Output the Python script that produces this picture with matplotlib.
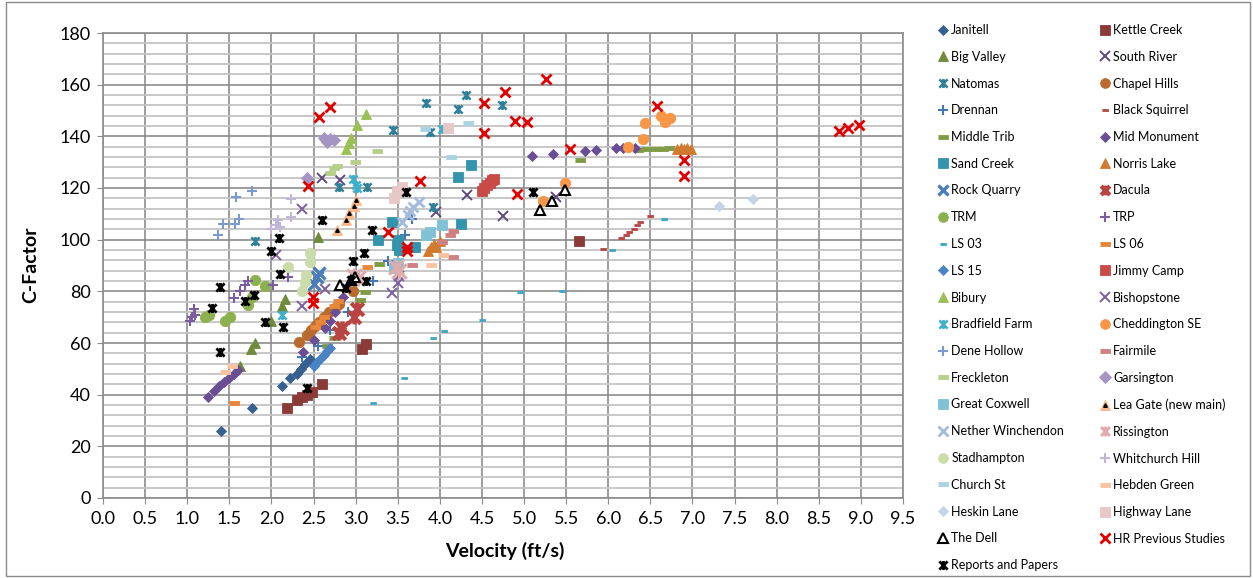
import numpy as np
import matplotlib.pyplot as plt
from matplotlib.path import Path
from matplotlib.lines import Line2D
from matplotlib.patches import Rectangle

plt.rcParams['font.family'] = ['Lato', 'DejaVu Sans']

# velocity (ft/s) / C-factor, one pair of lists per site
janitell_v = [1.40, 1.77, 2.12, 2.22, 2.30, 2.35, 2.40, 2.46]
janitell_c = [26, 35, 43.5, 46.5, 48, 50, 52, 54]
kettle_v = [2.18, 2.30, 2.36, 2.42, 2.48, 2.60, 3.07, 3.12, 5.65]
kettle_c = [34.7, 38, 39, 40, 41, 44, 57.5, 59.5, 99.5]
bigvalley_v = [1.63, 1.76, 1.80, 2.00, 2.12, 2.16, 2.55]
bigvalley_c = [51, 57.5, 60, 68.5, 74.5, 77, 101]
southriver_v = [2.60, 2.81, 3.96, 4.32, 4.75, 5.38]
southriver_c = [124, 123, 110.8, 117.2, 109, 116.7]
natomas_v = [1.81, 2.80, 3.14, 3.44, 3.83, 3.88, 3.92, 4.21, 4.31, 4.74]
natomas_c = [99.6, 120.5, 120.3, 142.5, 152.8, 141.8, 112.8, 150.5, 156, 152.2]
chapel_v = [2.33, 2.42, 2.47, 2.52, 2.57, 2.62, 2.68, 2.75, 2.80, 2.97]
chapel_c = [60.5, 63, 65, 66.5, 68, 70, 72, 73.5, 75, 80]
drennan_v = [2.36, 2.55, 2.70, 2.91, 3.21, 3.38, 3.59, 3.67]
drennan_c = [54.5, 59, 65, 72, 84, 91.7, 102, 108]
blacksq_v = [5.94, 6.15, 6.21, 6.25, 6.30, 6.34, 6.38, 6.50]
blacksq_c = [96.4, 100.8, 101.8, 103, 104.3, 105.5, 106.8, 109.3]
midtrib_v = [2.66, 2.74, 3.05, 3.11, 3.28, 5.67, 6.35, 6.45, 6.55, 6.65, 6.72]
midtrib_c = [58.7, 61.8, 76.5, 79.8, 90.6, 131, 134.8, 135, 135, 135.2, 135.3]
midmon_v = [1.25, 1.32, 1.38, 1.44, 1.50, 1.56, 1.60, 2.38, 2.50, 2.64, 2.69,
            2.76, 2.85, 5.09, 5.34, 5.72, 5.86, 6.09, 6.18, 6.32]
midmon_c = [39, 41.5, 43.5, 45, 46.5, 48, 49.5, 56.6, 61.2, 65.7, 68.6,
            72, 78, 132.2, 133.2, 134.5, 134.8, 135.3, 135.5, 135.6]
sandcreek_v = [3.27, 3.43, 3.49, 3.50, 3.52, 3.70, 4.21, 4.25, 4.37]
sandcreek_c = [100, 107, 98, 100, 96, 97, 124.2, 106, 129]
norris_v = [3.86, 3.90, 3.93, 3.96, 4.00, 6.82, 6.86, 6.90, 6.94, 6.98]
norris_c = [95.5, 97, 98.5, 97, 99.5, 135, 135.5, 135, 135.5, 135]
rockq_v = [2.50, 2.54, 2.56]
rockq_c = [83, 85.5, 87]
dacula_v = [2.80, 2.84, 2.98, 3.02]
dacula_c = [64, 66, 70, 73]
trm_v = [1.21, 1.26, 1.45, 1.51, 1.72, 1.77, 1.80, 1.92]
trm_c = [70.2, 71, 68.5, 70, 74.7, 78, 84.3, 82]
trp_v = [1.03, 1.06, 1.09, 1.08, 1.55, 1.63, 1.69, 1.72, 2.02, 2.20]
trp_c = [68.6, 70, 71, 73.1, 77.3, 80, 82.5, 84, 82.5, 85.7]
ls03_v = [3.21, 3.57, 3.92, 4.05, 4.50, 4.95, 5.45, 6.05, 6.66]
ls03_c = [36.9, 46.3, 61.8, 64.7, 68.9, 79.6, 80.3, 96, 108]
ls06_v = [1.55, 2.52, 2.58, 2.62, 2.74, 2.79, 3.14]
ls06_c = [36.9, 66.3, 68.3, 70, 74.2, 76.2, 89.3]
ls15_v = [2.50, 2.54, 2.58, 2.62, 2.66, 2.70]
ls15_c = [51, 52.5, 54, 55.5, 57, 58]
jimmy_v = [4.50, 4.53, 4.56, 4.59, 4.62, 4.64]
jimmy_c = [119, 120, 121, 122, 123, 123.5]
bibury_v = [2.88, 2.92, 2.95, 3.02, 3.12]
bibury_c = [135, 137.5, 139.2, 144.5, 148.5]
bishop_v = [2.06, 2.36, 2.36, 2.64, 3.43, 3.50, 3.52]
bishop_c = [94, 74.5, 111.8, 81, 79.5, 83.3, 86]
bradfield_v = [2.12, 2.97, 3.00, 3.02, 4.02]
bradfield_c = [70.8, 123.4, 121, 119.9, 143]
chedd_v = [5.23, 5.49, 6.24, 6.41, 6.44, 6.63, 6.67, 6.73]
chedd_c = [115, 121.8, 135.8, 138.9, 145.3, 147.9, 145.7, 147]
dene_v = [1.37, 1.43, 1.57, 1.61, 1.58, 1.77]
dene_c = [101.8, 106.1, 106.1, 108, 116.7, 118.9]
fairmile_v = [3.67, 4.02, 4.12, 4.16, 4.16]
fairmile_c = [90.2, 99.2, 102, 103.5, 93.2]
freck_v = [2.70, 2.74, 2.78, 2.99, 3.25]
freck_c = [126, 127.6, 128.5, 130.2, 134.5]
gars_v = [2.42, 2.62, 2.66, 2.70, 2.74]
gars_c = [123.8, 139.5, 138, 139, 138.5]
coxwell_v = [3.45, 3.50, 3.84, 3.88, 4.02]
coxwell_c = [89, 91, 101.8, 103, 105.7]
leagate_v = [2.78, 2.88, 2.92, 2.98, 3.01]
leagate_c = [103.7, 107.8, 110.3, 113, 115.2]
nether_v = [3.55, 3.62, 3.65, 3.68, 3.75]
nether_c = [107, 109.5, 111, 112.5, 114.7]
riss_v = [2.98, 3.03, 3.48, 3.52]
riss_c = [86, 85, 89.5, 88]
stad_v = [2.20, 2.36, 2.40, 2.41, 2.46, 2.46]
stad_c = [89.5, 80, 83.7, 86.3, 91.5, 94.7]
whit_v = [2.00, 2.06, 2.08, 2.10, 2.23, 2.23]
whit_c = [104, 105.7, 107.6, 105, 108.7, 115.6]
church_v = [3.82, 4.13, 4.33]
church_c = [143, 131.9, 145.3]
hebden_v = [1.45, 1.53, 3.90, 4.04]
hebden_c = [48.7, 51.2, 90.2, 94.1]
heskin_v = [7.32, 7.72]
heskin_c = [113, 115.6]
highway_v = [3.45, 3.49, 3.55, 4.10]
highway_c = [116.3, 118.8, 120.5, 143.2]
dell_v = [2.82, 2.95, 2.99, 5.19, 5.33, 5.49]
dell_c = [82.3, 84.4, 85.5, 111.5, 114.9, 119.4]
hr_v = [2.43, 2.49, 2.49, 2.56, 2.69, 3.38, 3.61, 3.61, 3.77, 4.53, 4.53, 4.77,
        4.89, 4.92, 5.03, 5.26, 5.55, 6.58, 6.90, 6.90, 8.74, 8.85, 8.98]
hr_c = [120.8, 77.7, 75.3, 147.6, 151.5, 102.9, 97.3, 95.5, 122.8, 152.8, 141.4, 157.3,
        146, 117.7, 145.7, 162.1, 135, 151.8, 130.9, 124.7, 142.1, 143.1, 144.4]
reports_v = [1.29, 1.39, 1.39, 1.69, 1.79, 1.92, 1.99, 2.09, 2.10, 2.14, 2.42, 2.60,
             2.89, 2.95, 2.97, 3.10, 3.12, 3.20, 3.60, 5.11]
reports_c = [73.4, 81.6, 56.4, 76.4, 78.6, 68.3, 95.7, 100.5, 86.7, 66.1, 42.5, 107.6,
             81.2, 84.2, 91.9, 94.7, 84.1, 103.7, 118.6, 118.6]

# excel-like markers
STAR = Path([(-1, -1), (1, 1), (-1, 1), (1, -1), (0, -1.1), (0, 1.1)],
            [Path.MOVETO, Path.LINETO, Path.MOVETO, Path.LINETO, Path.MOVETO, Path.LINETO])
SDASH = [(-1, -0.45), (1, -0.45), (1, 0.45), (-1, 0.45)]
LDASH = [(-1, -0.32), (1, -0.32), (1, 0.32), (-1, 0.32)]


def filled(marker, color, ms):
    return dict(marker=marker, ms=ms, mfc=color, mec=color, mew=0.6)


def lines(marker, color, ms, lw=1.4):
    return dict(marker=marker, ms=ms, mfc='none', mec=color, mew=lw)


series = [
    ('Janitell', janitell_v, janitell_c, filled('D', '#35608f', 4.6)),
    ('Kettle Creek', kettle_v, kettle_c, filled('s', '#8b3a38', 7.8)),
    ('Big Valley', bigvalley_v, bigvalley_c, filled('^', '#6f8a3a', 7)),
    ('South River', southriver_v, southriver_c, lines('x', '#5f4a80', 6.5)),
    ('Natomas', natomas_v, natomas_c, lines(STAR, '#2f8098', 6.5, 1.8)),
    ('Chapel Hills', chapel_v, chapel_c, filled('o', '#b96a2e', 7.5)),
    ('Drennan', drennan_v, drennan_c, lines('+', '#4577b5', 6.5, 1.5)),
    ('Black Squirrel', blacksq_v, blacksq_c, filled(SDASH, '#b84644', 4.5)),
    ('Middle Trib', midtrib_v, midtrib_c, filled(LDASH, '#7f9c45', 7)),
    ('Mid Monument', midmon_v, midmon_c, filled('D', '#6a4e93', 4.8)),
    ('Sand Creek', sandcreek_v, sandcreek_c, filled('s', '#3394ae', 7)),
    ('Norris Lake', norris_v, norris_c, filled('^', '#d07a2e', 7)),
    ('Rock Quarry', rockq_v, rockq_c, lines('x', '#4a7dba', 8.5, 2.4)),
    ('Dacula', dacula_v, dacula_c, lines(STAR, '#b84543', 10, 3)),
    ('TRM', trm_v, trm_c, filled('o', '#8db04e', 7.5)),
    ('TRP', trp_v, trp_c, lines('+', '#7a5da0', 6.5, 1.5)),
    ('LS 03', ls03_v, ls03_c, filled(SDASH, '#3fa7c4', 4.5)),
    ('LS 06', ls06_v, ls06_c, filled(LDASH, '#e8873a', 7)),
    ('LS 15', ls15_v, ls15_c, filled('D', '#4a82c6', 5)),
    ('Jimmy Camp', jimmy_v, jimmy_c, filled('s', '#c84b48', 7.5)),
    ('Bibury', bibury_v, bibury_c, filled('^', '#9bc054', 7)),
    ('Bishopstone', bishop_v, bishop_c, lines('x', '#7b5fa0', 6.5)),
    ('Bradfield Farm', bradfield_v, bradfield_c, lines(STAR, '#3fb0cc', 6.5, 1.8)),
    ('Cheddington SE', chedd_v, chedd_c, filled('o', '#f79646', 7.5)),
    ('Dene Hollow', dene_v, dene_c, lines('+', '#7b9bd0', 6.5, 1.5)),
    ('Fairmile', fairmile_v, fairmile_c, filled(SDASH, '#d08080', 7)),
    ('Freckleton', freck_v, freck_c, filled(LDASH, '#b7cf8a', 7)),
    ('Garsington', gars_v, gars_c, filled('D', '#a594c4', 6)),
    ('Great Coxwell', coxwell_v, coxwell_c, filled('s', '#7fc2d6', 7.5)),
    ('Lea Gate (new main)', leagate_v, leagate_c, filled('^', '#f8b88a', 6.8)),
    ('Nether Winchendon', nether_v, nether_c, lines('x', '#a5bbdc', 7.5, 2)),
    ('Rissington', riss_v, riss_c, lines(STAR, '#e0acab', 11.5, 2.2)),
    ('Stadhampton', stad_v, stad_c, filled('o', '#c9dcaa', 7.5)),
    ('Whitchurch Hill', whit_v, whit_c, lines('+', '#c2b6d8', 6.5, 1.5)),
    ('Church St', church_v, church_c, filled(SDASH, '#a8d3e2', 7)),
    ('Hebden Green', hebden_v, hebden_c, filled(LDASH, '#f9c3a0', 7)),
    ('Heskin Lane', heskin_v, heskin_c, filled('D', '#c5d2e8', 4.6)),
    ('Highway Lane', highway_v, highway_c, filled('s', '#e8c7c7', 7)),
    ('The Dell', dell_v, dell_c, dict(marker='^', ms=6.5, mfc='white', mec='black', mew=1.5)),
    ('HR Previous Studies', hr_v, hr_c, lines('x', '#e00000', 6.5, 2)),
    ('Reports and Papers', reports_v, reports_c, lines(STAR, 'black', 6.5, 2)),
]

fig = plt.figure(figsize=(12.53, 5.78), dpi=100)
ax = fig.add_axes([103 / 1253, 1 - 498 / 578, 800 / 1253, 465 / 578])

handles = []
for name, v, c, st in series:
    ax.plot(v, c, ls='none', **st)
    lst = dict(st)
    lst['ms'] = min(st['ms'], 7)
    h = Line2D([], [], ls='none', **lst)
    if name.startswith('Lea Gate'):
        ax.plot(v, c, ls='none', marker='^', ms=2.6, color='black')
        h = (h, Line2D([], [], ls='none', marker='^', ms=2.6, color='black'))
    handles.append((h, name))

ax.set_xlim(0, 9.5)
ax.set_ylim(0, 180)
ax.set_xticks(np.arange(0, 9.51, 0.5))
ax.set_xticklabels([f'{t:.1f}' for t in np.arange(0, 9.51, 0.5)])
ax.set_yticks(np.arange(0, 181, 20))
ax.set_yticks(np.arange(0, 181, 4), minor=True)
ax.grid(which='major', color='#8c8c8c', lw=1.2)
ax.grid(which='minor', axis='y', color='#c4c4c4', lw=1.3)
ax.set_axisbelow(True)
ax.tick_params(which='major', direction='out', length=4, color='#8c8c8c', labelsize=13, pad=5)
ax.tick_params(which='minor', length=0)
for s in ax.spines.values():
    s.set_color('#8c8c8c')
    s.set_linewidth(1.2)

fig.text(505 / 1253, 1 - 551 / 578, 'Velocity (ft/s)', fontsize=14, fontweight='bold',
         ha='center', va='center')
fig.text(31 / 1253, 1 - 265 / 578, 'C-Factor', fontsize=14, fontweight='bold',
         ha='center', va='center', rotation=90)

# legend: excel fills rows first, so split into two columns by hand
col1 = handles[0::2]
col2 = handles[1::2]
for col, x0 in ((col1, 938), (col2, 1100)):
    fig.legend([h for h, _ in col], [n for _, n in col], loc='upper left',
               bbox_to_anchor=(x0 / 1253, 1 - 24 / 578), frameon=False, fontsize=9,
               handlelength=0.8, handletextpad=0.25, labelspacing=1.18,
               borderpad=0, borderaxespad=0)

fig.patches.append(Rectangle((6 / 1253, 2 / 578), 1244 / 1253, 574 / 578,
                             transform=fig.transFigure, fill=False, ec='#8c8c8c', lw=1))

fig.savefig('out.png', dpi=100)
